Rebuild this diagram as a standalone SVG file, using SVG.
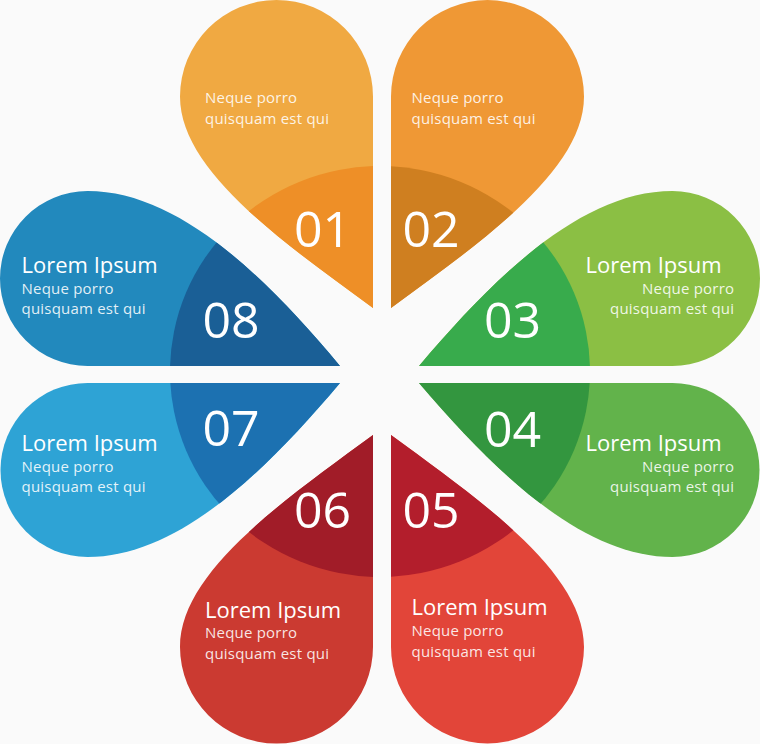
<svg xmlns="http://www.w3.org/2000/svg" xmlns:xlink="http://www.w3.org/1999/xlink" width="760" height="744" viewBox="0 0 760 744">
<style>
.t{font-family:"Open Sans","Liberation Sans",sans-serif;fill:#fff;font-size:22px}
.s{font-family:"Open Sans","Liberation Sans",sans-serif;fill:#fff;fill-opacity:0.88;font-size:15px}
.n{font-family:"Open Sans","Liberation Sans",sans-serif;fill:#fff;font-size:50px}
.e{text-anchor:end}
</style>
<defs>
<path id="p1" d="M373 308 L373 96.5 A96.5 96.5 0 0 0 180 96.5 C180 170 280 240 373 308 Z"/>
<path id="p2" d="M391 308 L391 96.5 A96.5 96.5 0 0 1 584 96.5 C584 170 484 240 391 308 Z"/>
<path id="p3" d="M419 366 L672.5 366 A87.5 87.5 0 0 0 672.5 191 C585 191 500 270 419 366 Z"/>
<path id="p4" d="M419 383 L672.5 383 A87 87 0 0 1 672.5 557 C585 557 500 478 419 383 Z"/>
<path id="p5" d="M391 435 L391 647 A96.5 96.5 0 0 0 584 647 C584 573 484 503 391 435 Z"/>
<path id="p6" d="M373 435 L373 647 A96.5 96.5 0 0 1 180 647 C180 573 280 503 373 435 Z"/>
<path id="p7" d="M340 383 L87.5 383 A87 87 0 0 0 87.5 557 C175 557 260 478 340 383 Z"/>
<path id="p8" d="M340 366 L87.5 366 A87.5 87.5 0 0 1 87.5 191 C175 191 260 270 340 366 Z"/>
<clipPath id="c1"><use xlink:href="#p1"/></clipPath>
<clipPath id="c2"><use xlink:href="#p2"/></clipPath>
<clipPath id="c3"><use xlink:href="#p3"/></clipPath>
<clipPath id="c4"><use xlink:href="#p4"/></clipPath>
<clipPath id="c5"><use xlink:href="#p5"/></clipPath>
<clipPath id="c6"><use xlink:href="#p6"/></clipPath>
<clipPath id="c7"><use xlink:href="#p7"/></clipPath>
<clipPath id="c8"><use xlink:href="#p8"/></clipPath>
<ellipse id="core" cx="380" cy="371.5" rx="210" ry="205.5"/>
</defs>
<rect width="760" height="744" fill="#fafafa"/>

<g id="petal-01">
<use xlink:href="#p1" fill="#F0A942"/>
<use xlink:href="#core" fill="#EE8F27" clip-path="url(#c1)"/>
<text class="s" x="205" y="102.5" textLength="92">Neque porro</text>
<text class="s" x="205" y="123.5" textLength="124">quisquam est qui</text>
<text class="n" x="294" y="246.5">01</text>
</g>

<g id="petal-02">
<use xlink:href="#p2" fill="#EF9835"/>
<use xlink:href="#core" fill="#CF7F20" clip-path="url(#c2)"/>
<text class="s" x="411.5" y="102.5" textLength="92">Neque porro</text>
<text class="s" x="411.5" y="123.5" textLength="124">quisquam est qui</text>
<text class="n" x="402.5" y="246.5">02</text>
</g>

<g id="petal-03">
<use xlink:href="#p3" fill="#8BBF44"/>
<use xlink:href="#core" fill="#38AB4C" clip-path="url(#c3)"/>
<text class="t" x="585.5" y="272.5">Lorem Ipsum</text>
<text class="s e" x="734" y="293.5" textLength="92">Neque porro</text>
<text class="s e" x="734" y="314" textLength="124">quisquam est qui</text>
<text class="n" x="484" y="338">03</text>
</g>

<g id="petal-04">
<use xlink:href="#p4" fill="#62B34B"/>
<use xlink:href="#core" fill="#33963F" clip-path="url(#c4)"/>
<text class="n" x="484" y="446.5">04</text>
<text class="t" x="585.5" y="451">Lorem Ipsum</text>
<text class="s e" x="734" y="471.5" textLength="92">Neque porro</text>
<text class="s e" x="734" y="492" textLength="124">quisquam est qui</text>
</g>

<g id="petal-05">
<use xlink:href="#p5" fill="#E24539"/>
<use xlink:href="#core" fill="#B31E2C" clip-path="url(#c5)"/>
<text class="n" x="402.5" y="528">05</text>
<text class="t" x="411.5" y="615">Lorem Ipsum</text>
<text class="s" x="411.5" y="636" textLength="92">Neque porro</text>
<text class="s" x="411.5" y="656.5" textLength="124">quisquam est qui</text>
</g>

<g id="petal-06">
<use xlink:href="#p6" fill="#CB3A31"/>
<use xlink:href="#core" fill="#A11C28" clip-path="url(#c6)"/>
<text class="n" x="294" y="528">06</text>
<text class="t" x="205" y="617.5">Lorem Ipsum</text>
<text class="s" x="205" y="638" textLength="92">Neque porro</text>
<text class="s" x="205" y="659" textLength="124">quisquam est qui</text>
</g>

<g id="petal-07">
<use xlink:href="#p7" fill="#2EA3D5"/>
<use xlink:href="#core" fill="#1C71B1" clip-path="url(#c7)"/>
<text class="n" x="202.5" y="445.5">07</text>
<text class="t" x="21.5" y="451">Lorem Ipsum</text>
<text class="s" x="21.5" y="471.5" textLength="92">Neque porro</text>
<text class="s" x="21.5" y="492" textLength="124">quisquam est qui</text>
</g>

<g id="petal-08">
<use xlink:href="#p8" fill="#2289BD"/>
<use xlink:href="#core" fill="#1A5F96" clip-path="url(#c8)"/>
<text class="t" x="21.5" y="272.5">Lorem Ipsum</text>
<text class="s" x="21.5" y="293.5" textLength="92">Neque porro</text>
<text class="s" x="21.5" y="314" textLength="124">quisquam est qui</text>
<text class="n" x="202.5" y="338">08</text>
</g>
</svg>
